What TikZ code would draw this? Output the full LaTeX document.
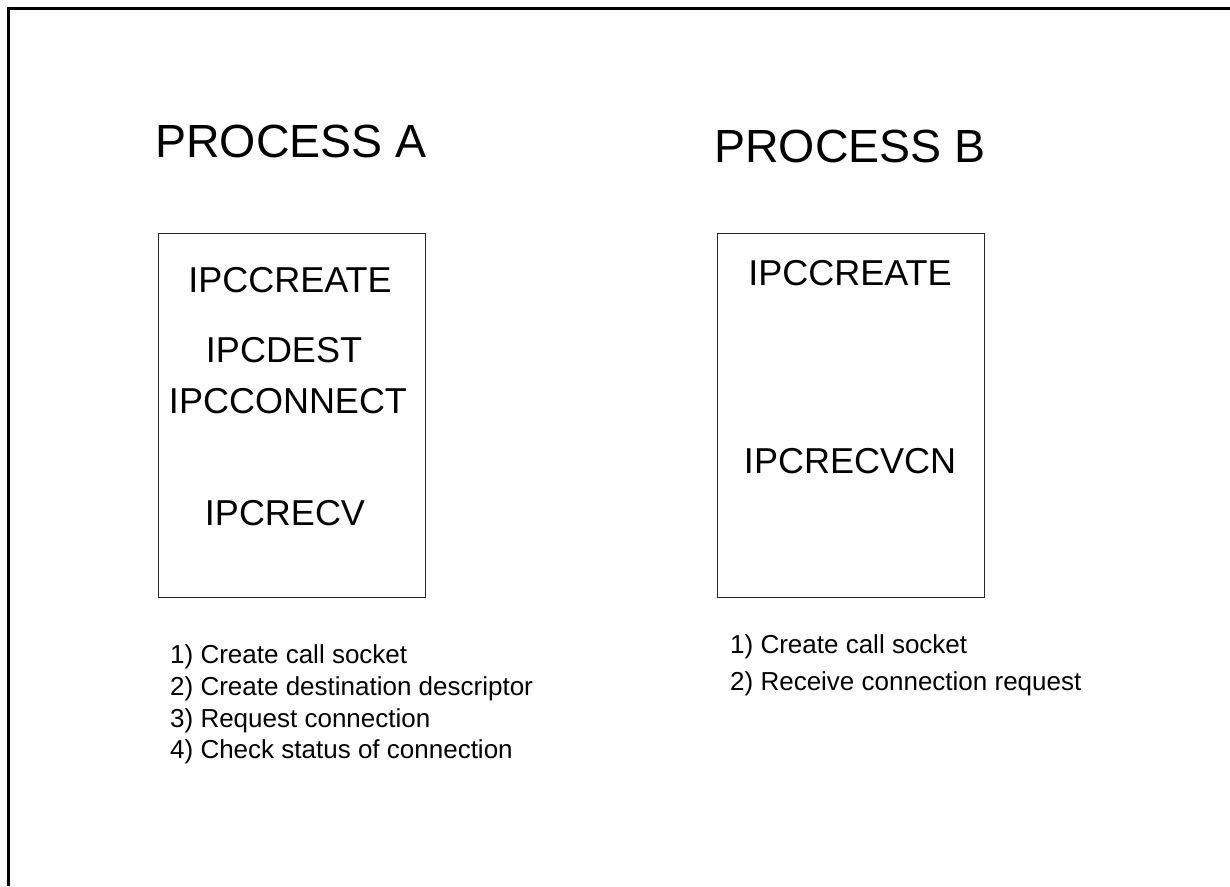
\documentclass[tikz,border=0pt]{standalone}
\usepackage{fontspec}
\setmainfont{Liberation Sans}
\begin{document}
\begin{tikzpicture}[x=1pt,y=-1pt,
  frameline/.style={line width=3pt,black},
  procbox/.style={draw=black!85,line width=1pt},
  heading/.style={anchor=base,inner sep=0pt,font=\fontsize{46.5}{46.5}\selectfont},
  call/.style={anchor=base,inner sep=0pt,font=\fontsize{36}{36}\selectfont},
  note/.style={anchor=base west,inner sep=0pt,font=\fontsize{26}{26}\selectfont}]
\useasboundingbox (0,0) rectangle (1230,886);
% open outer frame: left and top edges
\coordinate (fbl) at (8,886);
\coordinate (ftl) at (8,8);
\coordinate (ftr) at (1230,8);
\draw[frameline] (fbl) -- (ftl) -- (ftr);

% process A
\node[heading] (pa) at (291,157) {PROCESS A};
\draw[procbox] (158,233) rectangle (425,597);
\node[call] (a1) at (290,292) {IPCCREATE};
\node[call] (a2) at (284,362) {IPCDEST};
\node[call] (a3) at (288,413) {IPCCONNECT};
\node[call] (a4) at (285,525) {IPCRECV};
\node[note] (na1) at (170,663) {1) Create call socket};
\node[note] (na2) at (170,695) {2) Create destination descriptor};
\node[note] (na3) at (170,727) {3) Request connection};
\node[note] (na4) at (170,758) {4) Check status of connection};

% process B
\node[heading] (pb) at (850,162) {PROCESS B};
\draw[procbox] (717,233) rectangle (984,597);
\node[call] (b1) at (850,285) {IPCCREATE};
\node[call] (b2) at (850,473) {IPCRECVCN};
\node[note] (nb1) at (730,653) {1) Create call socket};
\node[note] (nb2) at (730,690) {2) Receive connection request};
\end{tikzpicture}
\end{document}
